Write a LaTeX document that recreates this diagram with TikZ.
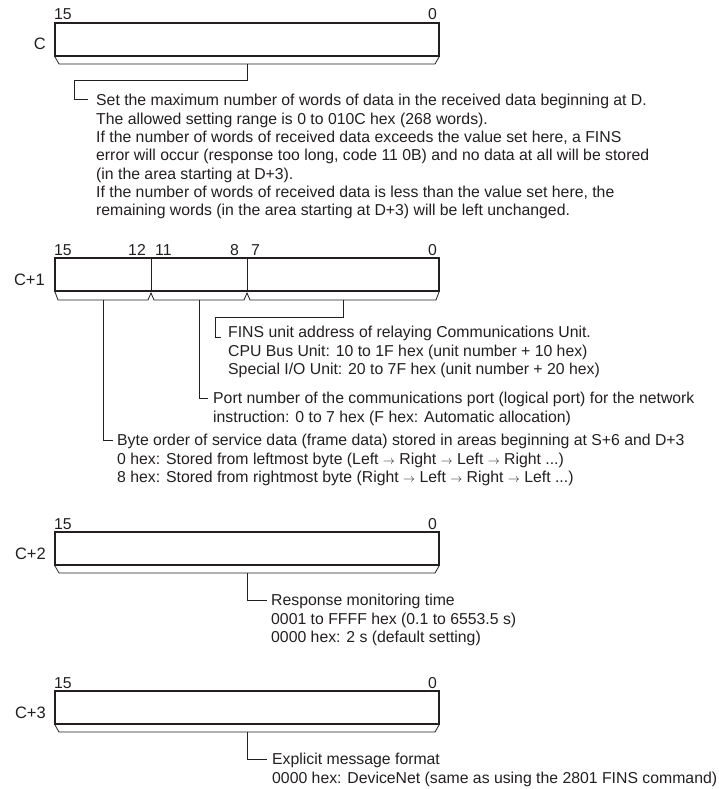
\documentclass[tikz,border=0pt]{standalone}
\usepackage{fontspec}
\setmainfont{Liberation Sans}
\definecolor{ink}{HTML}{231F20}
\newcommand{\myarr}{{\fontsize{12}{12}\selectfont$\rightarrow$}}
\begin{document}
\begin{tikzpicture}[x=1pt,y=-1pt,
  regbox/.style={draw=ink, line width=1.6pt, minimum width=384pt, minimum height=33pt, inner sep=0pt, outer sep=0pt},
  divline/.style={draw=ink, line width=0.9pt},
  lead/.style={draw=ink, line width=0.8pt, line join=miter},
  txt/.style={anchor=north west, inner sep=0pt, align=left, text=ink, font=\fontsize{15.8}{18.3}\selectfont},
  bitlbl/.style={inner sep=0pt, text=ink, font=\fontsize{15.8}{18}\selectfont},
  reglbl/.style={anchor=base east, inner sep=0pt, text=ink, font=\fontsize{16.5}{18}\selectfont}]
\useasboundingbox (0,0) rectangle (719,789);

% ---------------- Register C ----------------
\node[regbox] (rC) at (247,39.5) {};
\node[bitlbl, anchor=base west] (rCa) at (54,20) {15};
\node[bitlbl, anchor=base east] (rCb) at (437,20) {0};
\node[reglbl] (rCn) at (46,50) {C};
\draw[lead] (rC.south west) ++(0,1) -- ++(4,7) -- ++(376,0) -- ++(4,-7);
\coordinate (bC) at (247,64);
\node[txt] (tC) at (96,92.8) {\strut Set the maximum number of words of data in the received data beginning at D.\\
The allowed setting range is 0 to 010C hex (268 words).\\
If the number of words of received data exceeds the value set here, a FINS\\
error will occur (response too long, code 11 0B) and no data at all will be stored\\
(in the area starting at D+3).\\
If the number of words of received data is less than the value set here, the\\
remaining words (in the area starting at D+3) will be left unchanged.};
\coordinate (kC1) at (247,80);
\coordinate (kC2) at (74,80);
\coordinate (kC3) at (74,99);
\coordinate (kC4) at (88,99);
\draw[lead] (bC) -- (kC1) -- (kC2) -- (kC3) -- (kC4);

% ---------------- Register C+1 ----------------
\node[regbox] (rD) at (247,274.5) {};
\draw[divline] (151,258) coordinate (dA) -- (151,291) coordinate (dB);
\draw[divline] (247,258) coordinate (dC) -- (247,291) coordinate (dD);
\node[bitlbl, anchor=base west] (rDa) at (54,255) {15};
\node[bitlbl, anchor=base east] (rDb) at (146,255) {12};
\node[bitlbl, anchor=base west] (rDc) at (155,255) {11};
\node[bitlbl, anchor=base east] (rDd) at (239,255) {8};
\node[bitlbl, anchor=base west] (rDe) at (251,255) {7};
\node[bitlbl, anchor=base east] (rDf) at (437,255) {0};
\node[reglbl] (rDn) at (45,285) {C+1};
\draw[lead] (55,292) -- (58,300) -- (148,300) -- (151,293) -- (154,300) -- (244,300) -- (247,293) -- (250,300) -- (436,300) -- (439,292);
\coordinate (bD1) at (103,300);
\coordinate (bD2) at (199,300);
\coordinate (bD3) at (343,300);
% FINS unit address
\node[txt] (tD3) at (228,324.8) {\strut FINS unit address of relaying Communications Unit.\\
CPU Bus Unit: 10 to 1F hex (unit number + 10 hex)\\
Special I/O Unit: 20 to 7F hex (unit number + 20 hex)};
\coordinate (kD31) at (343,317);
\coordinate (kD32) at (215,317);
\coordinate (kD33) at (215,337);
\coordinate (kD34) at (221,337);
\draw[lead] (bD3) -- (kD31) -- (kD32) -- (kD33) -- (kD34);
% Port number
\node[txt] (tD2) at (213,390.8) {\strut Port number of the communications port (logical port) for the network\\
instruction: 0 to 7 hex (F hex: Automatic allocation)};
\coordinate (kD21) at (199,398);
\coordinate (kD22) at (208,398);
\draw[lead] (bD2) -- (kD21) -- (kD22);
% Byte order
\node[txt] (tD1) at (117,432.8) {\strut Byte order of service data (frame data) stored in areas beginning at S+6 and D+3\\
0 hex: Stored from leftmost byte (Left \myarr{} Right \myarr{} Left \myarr{} Right ...)\\
8 hex: Stored from rightmost byte (Right \myarr{} Left \myarr{} Right \myarr{} Left ...)};
\coordinate (kD11) at (103,440);
\coordinate (kD12) at (113,440);
\draw[lead] (bD1) -- (kD11) -- (kD12);

% ---------------- Register C+2 ----------------
\node[regbox] (rE) at (247,548.5) {};
\node[bitlbl, anchor=base west] (rEa) at (54,529) {15};
\node[bitlbl, anchor=base east] (rEb) at (437,529) {0};
\node[reglbl] (rEn) at (46,559) {C+2};
\draw[lead] (rE.south west) ++(0,1) -- ++(4,7) -- ++(376,0) -- ++(4,-7);
\coordinate (bE) at (247,573);
\node[txt] (tE) at (271,592.8) {\strut Response monitoring time\\
0001 to FFFF hex (0.1 to 6553.5 s)\\
0000 hex: 2 s (default setting)};
\coordinate (kE1) at (247,600);
\coordinate (kE2) at (267,600);
\draw[lead] (bE) -- (kE1) -- (kE2);

% ---------------- Register C+3 ----------------
\node[regbox] (rF) at (247,707.5) {};
\node[bitlbl, anchor=base west] (rFa) at (54,688) {15};
\node[bitlbl, anchor=base east] (rFb) at (437,688) {0};
\node[reglbl] (rFn) at (46,718) {C+3};
\draw[lead] (rF.south west) ++(0,1) -- ++(4,7) -- ++(376,0) -- ++(4,-7);
\coordinate (bF) at (247,732);
\node[txt] (tF) at (272,751.8) {\strut Explicit message format\\
0000 hex: DeviceNet (same as using the 2801 FINS command)};
\coordinate (kF1) at (247,759);
\coordinate (kF2) at (267,759);
\draw[lead] (bF) -- (kF1) -- (kF2);
\end{tikzpicture}
\end{document}
